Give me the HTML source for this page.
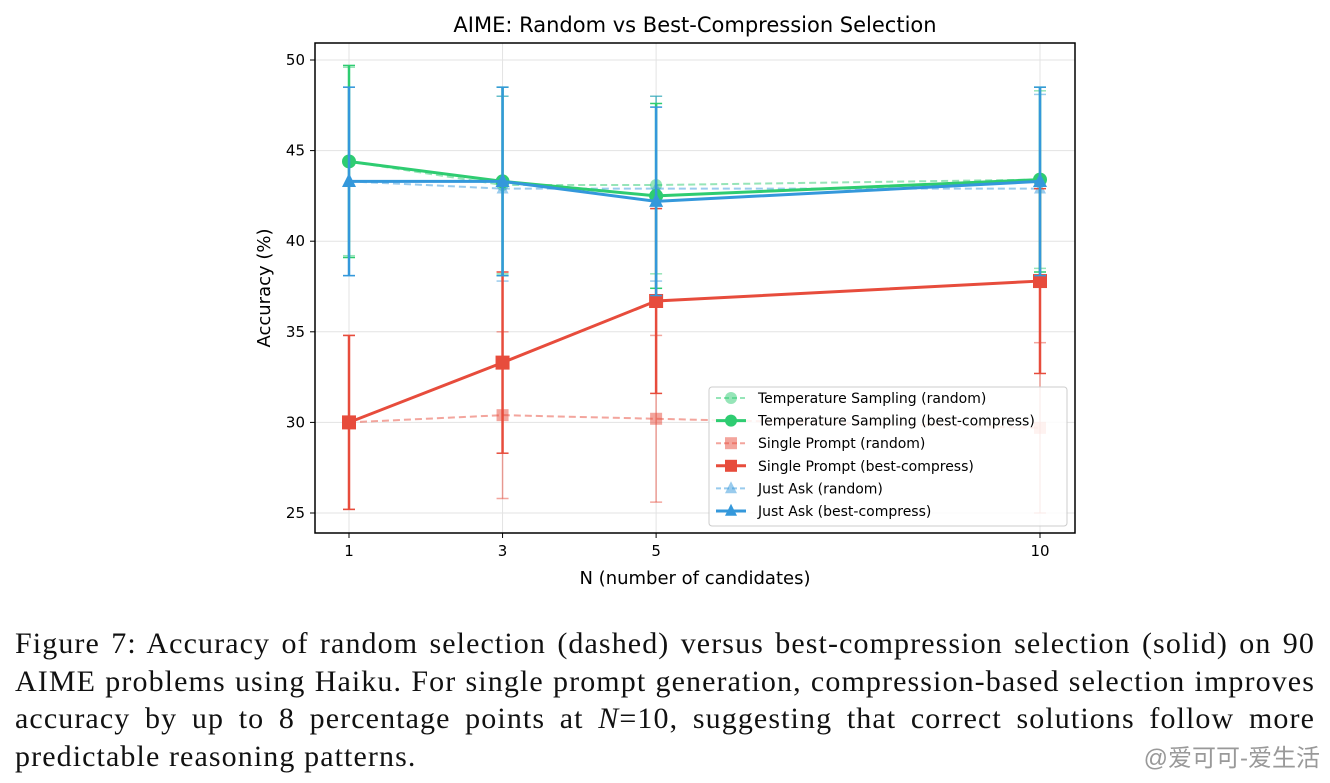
<!DOCTYPE html>
<html><head><meta charset="utf-8"><style>
body{margin:0;background:#fff;width:1330px;height:783px;overflow:hidden;position:relative;font-family:"DejaVu Sans","Liberation Sans",sans-serif}
.cap{position:absolute;left:15px;top:625px;width:1300px;font-family:"Liberation Serif",serif;font-size:30px;letter-spacing:1.1px;line-height:37.6px;color:#111}
.cap div{text-align:justify;text-align-last:justify;white-space:nowrap}
.cap div.last{text-align-last:left}
.wm{position:absolute;right:10px;top:738px;font-family:"Liberation Sans","Noto Sans CJK SC",sans-serif;font-size:24px;color:#999}
</style></head><body>
<svg id="chart" width="1330" height="610" style="position:absolute;left:0;top:0" font-family="DejaVu Sans, Liberation Sans, sans-serif"></svg>
<div class="cap">
<div>Figure 7: Accuracy of random selection (dashed) versus best-compression selection (solid) on 90</div>
<div>AIME problems using Haiku. For single prompt generation, compression-based selection improves</div>
<div>accuracy by up to 8 percentage points at <i>N</i>=10, suggesting that correct solutions follow more</div>
<div class="last">predictable reasoning patterns.</div>
</div>
<div class="wm">@爱可可-爱生活</div>
<script>
const categories=[1,3,5,10];
const yTicks=[25,30,35,40,45,50];
const tempRandom=[44.4,43.1,43.1,43.4];
const tempRandomErr=[5.2,4.9,4.9,4.9];
const tempBest=[44.4,43.3,42.5,43.4];
const tempBestErr=[5.3,5.2,5.1,5.1];
const singleRandom=[30.0,30.4,30.2,29.7];
const singleRandomErr=[4.8,4.6,4.6,4.7];
const singleBest=[30.0,33.3,36.7,37.8];
const singleBestErr=[4.8,5.0,5.1,5.1];
const askRandom=[43.3,42.9,42.9,42.9];
const askRandomErr=[5.2,5.1,5.1,5.2];
const askBest=[43.3,43.3,42.2,43.3];
const askBestErr=[5.2,5.2,5.2,5.2];
const NS="http://www.w3.org/2000/svg";
const svg=document.getElementById('chart');
const L=315,R=1075,T=43,B=533;
const xS=v=>349+(v-1)*(1040-349)/9;
const yS=v=>513-(v-25)*(513-60)/25;
function mk(tag,at,parent){const e=document.createElementNS(NS,tag);for(const k in at)e.setAttribute(k,at[k]);(parent||svg).appendChild(e);return e;}
yTicks.forEach(t=>{const g=mk('line',{x1:L,x2:R,y1:yS(t),y2:yS(t),stroke:'#e3e3e3','stroke-width':1});


mk('line',{x1:L-5,x2:L,y1:yS(t),y2:yS(t),stroke:'#000'});
const tx=mk('text',{x:L-10,y:yS(t)+5,'text-anchor':'end','font-size':15});tx.textContent=t;

});
categories.forEach(c=>{const g=mk('line',{x1:xS(c),x2:xS(c),y1:T,y2:B,stroke:'#e3e3e3'});


mk('line',{x1:xS(c),x2:xS(c),y1:B,y2:B+5,stroke:'#000'});
const tx=mk('text',{x:xS(c),y:B+23,'text-anchor':'middle','font-size':15});tx.textContent=c;

});
function marker(shape,x,y,col,op,s,g){
 if(shape==='o')return mk('circle',{cx:x,cy:y,r:s,fill:col,'fill-opacity':op},g);
 if(shape==='s')return mk('rect',{x:x-s,y:y-s,width:2*s,height:2*s,fill:col,'fill-opacity':op},g);
 return mk('polygon',{points:`${x},${y-s*1.2} ${x-s},${y+s*0.8} ${x+s},${y+s*0.8}`,fill:col,'fill-opacity':op},g);}
function series(name,vals,errs,col,dashed,shape){
 const g=mk('g',{});
 
 
 const op=dashed?0.5:1, w=dashed?2:3;
 vals.forEach((v,i)=>{const x=xS(categories[i]);const y1=yS(v+errs[i]),y2=yS(v-errs[i]);
  mk('line',{x1:x,x2:x,y1:y1,y2:y2,stroke:col,'stroke-opacity':op,'stroke-width':dashed?1.5:2.5},g);
  mk('line',{x1:x-6,x2:x+6,y1:y1,y2:y1,stroke:col,'stroke-opacity':op,'stroke-width':1.5},g);
  mk('line',{x1:x-6,x2:x+6,y1:y2,y2:y2,stroke:col,'stroke-opacity':op,'stroke-width':1.5},g);});
 mk('polyline',{points:vals.map((v,i)=>xS(categories[i])+','+yS(v)).join(' '),fill:'none',stroke:col,'stroke-opacity':op,'stroke-width':w,'stroke-dasharray':dashed?'7,4':'none'},g);
 vals.forEach((v,i)=>marker(shape,xS(categories[i]),yS(v),col,op,dashed?6:7,g));}
series('series-single-random',singleRandom,singleRandomErr,'#e74c3c',true,'s');
series('series-temp-random',tempRandom,tempRandomErr,'#2ecc71',true,'o');
series('series-ask-random',askRandom,askRandomErr,'#3498db',true,'^');
series('series-single-best',singleBest,singleBestErr,'#e74c3c',false,'s');
series('series-temp-best',tempBest,tempBestErr,'#2ecc71',false,'o');
series('series-ask-best',askBest,askBestErr,'#3498db',false,'^');
const fr=mk('rect',{x:L,y:T,width:R-L,height:B-T,fill:'none',stroke:'#000','stroke-width':1.5});


const ti=mk('text',{x:(L+R)/2,y:32,'text-anchor':'middle','font-size':21});ti.textContent='AIME: Random vs Best-Compression Selection';


const xl=mk('text',{x:(L+R)/2,y:584,'text-anchor':'middle','font-size':18});xl.textContent='N (number of candidates)';


const yl=mk('text',{x:0,y:0,'text-anchor':'middle','font-size':18,transform:`translate(270,${(T+B)/2}) rotate(-90)`});yl.textContent='Accuracy (%)';


const lg=mk('g',{});


mk('rect',{x:709,y:387,width:358,height:139,rx:3,fill:'#fff','fill-opacity':0.85,stroke:'#ccc'},lg);
const entries=[['Temperature Sampling (random)','#2ecc71',true,'o'],['Temperature Sampling (best-compress)','#2ecc71',false,'o'],['Single Prompt (random)','#e74c3c',true,'s'],['Single Prompt (best-compress)','#e74c3c',false,'s'],['Just Ask (random)','#3498db',true,'^'],['Just Ask (best-compress)','#3498db',false,'^']];
entries.forEach((e,i)=>{const y=398+i*22.6;const g=mk('g',{},lg);
 
 
 const op=e[2]?0.5:1;
 mk('line',{x1:716,x2:746,y1:y,y2:y,stroke:e[1],'stroke-opacity':op,'stroke-width':e[2]?2:3,'stroke-dasharray':e[2]?'5,3':'none'},g);
 marker(e[3],731,y,e[1],op,6,g);
 const t=mk('text',{x:758,y:y+5,'font-size':14},g);t.textContent=e[0];});
</script>
</body></html>
